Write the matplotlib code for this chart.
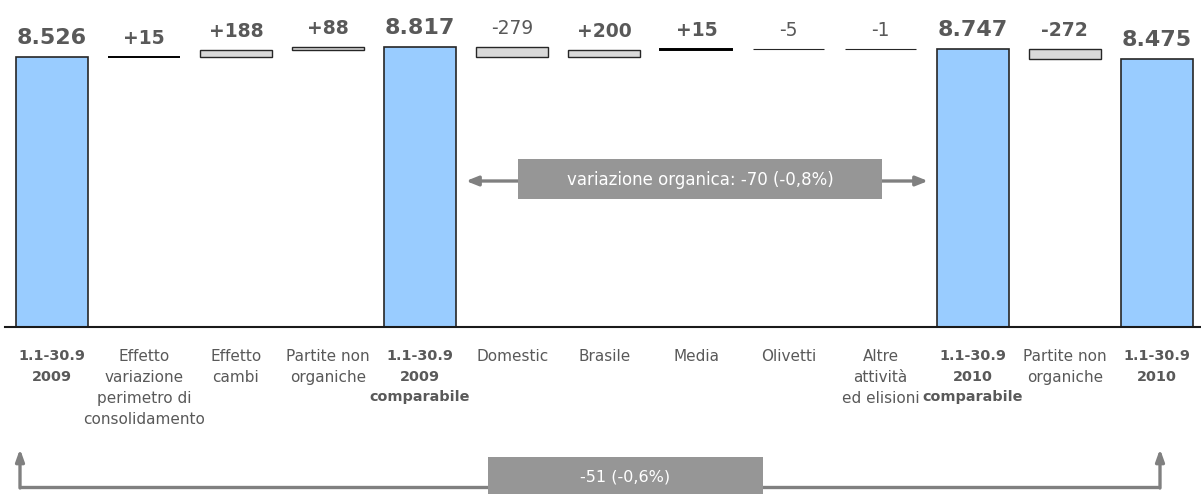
import matplotlib
matplotlib.use('Agg')
import matplotlib.pyplot as plt
from matplotlib.patches import Rectangle
import numpy as np

categories = ["1.1-30.9\n2009", "Effetto\nvariazione\nperimetro di\nconsolidamento", "Effetto\ncambi",
              "Partite non\norganiche", "1.1-30.9\n2009\ncomparabile", "Domestic", "Brasile", "Media",
              "Olivetti", "Altre\nattività\ned elisioni", "1.1-30.9\n2010\ncomparabile",
              "Partite non\norganiche", "1.1-30.9\n2010"]
values = [8526, 15, 188, 88, 8817, -279, 200, 15, -5, -1, 8747, -272, 8475]
is_total = [True, False, False, False, True, False, False, False, False, False, True, False, True]
value_labels = ["8.526", "+15", "+188", "+88", "8.817", "-279", "+200", "+15", "-5", "-1", "8.747", "-272", "8.475"]
organic_note = "variazione organica: -70 (-0,8%)"
total_note = "-51 (-0,6%)"

# style
label_weights = ['bold', 'bold', 'bold', 'bold', 'bold', 'normal', 'bold', 'bold', 'normal', 'normal', 'bold', 'bold', 'bold']
TXT = '#595959'
BLUE = '#99ccff'
GREY_BAR = '#d9d9d9'
EDGE = '#262626'
ANN = '#969696'
ARROW = '#808080'

W, H = 1201, 494
fig = plt.figure(figsize=(W / 100, H / 100), dpi=100)
ax = fig.add_axes([5 / W, (H - 326.5) / H, (W - 5) / W, 326.5 / H])

x = np.arange(len(values))
bottoms, heights = [], []
running = 0
for v, t in zip(values, is_total):
    if t:
        bottoms.append(0)
        heights.append(v)
        running = v
    else:
        bottoms.append(running)
        heights.append(v)
        running += v

for i in range(len(values)):
    if is_total[i]:
        ax.bar(x[i], heights[i], bottom=bottoms[i], width=0.78, color=BLUE, edgecolor=EDGE, linewidth=1.2, zorder=2)
    else:
        small = abs(values[i]) < 50
        if small and values[i] > 0:
            ec, lw = '#000000', 1.4
        elif small:
            ec, lw = EDGE, 0.8
        else:
            ec, lw = EDGE, 1.0
        ax.bar(x[i], heights[i], bottom=bottoms[i], width=0.78, color=GREY_BAR, edgecolor=ec, linewidth=lw, zorder=2)
    top = max(bottoms[i], bottoms[i] + heights[i])
    size = 16 if is_total[i] else 13.5
    ax.annotate(value_labels[i], (x[i], top), xytext=(0, 9.4), textcoords='offset points',
                ha='center', va='baseline', fontsize=size, fontweight=label_weights[i], color=TXT)

ax.set_xlim(-0.508, 12.48)
ax.set_ylim(1040, 10117)
for s in ['top', 'right', 'left']:
    ax.spines[s].set_visible(False)
ax.spines['bottom'].set_linewidth(1.5)
ax.spines['bottom'].set_color('#1a1a1a')
ax.set_yticks([])
ax.set_xticks(x)
ax.set_xticklabels(categories)
ax.tick_params(axis='x', length=0, pad=16)
for lab, t in zip(ax.get_xticklabels(), is_total):
    lab.set_color(TXT)
    if t:
        lab.set_fontweight('bold')
        lab.set_fontsize(10.4)
        lab.set_linespacing(1.62)
    else:
        lab.set_fontsize(11)
        lab.set_linespacing(1.5)
ax.patch.set_alpha(0)

# overlay in pixel coordinates for annotations
ov = fig.add_axes([0, 0, 1, 1], zorder=5)
ov.set_xlim(0, W)
ov.set_ylim(H, 0)
ov.axis('off')
ov.patch.set_alpha(0)

# organic variation double arrow
for xe in (466, 928):
    ov.annotate('', xy=(xe, 181), xytext=(700, 181),
                arrowprops=dict(arrowstyle='-|>,head_length=0.7,head_width=0.28', color=ARROW, lw=2.4,
                                shrinkA=0, shrinkB=0))
ov.add_patch(Rectangle((518, 159), 364, 40, facecolor=ANN, edgecolor='none', zorder=3))
ov.text(700, 180, organic_note, ha='center', va='center', color='white', fontsize=12, zorder=4)

# total variation bracket
ov.plot([20, 1160], [487, 487], color=ARROW, lw=2.4, solid_capstyle='butt')
for xx in (20, 1160):
    ov.annotate('', xy=(xx, 449), xytext=(xx, 488),
                arrowprops=dict(arrowstyle='-|>,head_length=0.7,head_width=0.25', color=ARROW, lw=2.4,
                                shrinkA=0, shrinkB=0))
ov.add_patch(Rectangle((488, 457), 275, 40, facecolor=ANN, edgecolor='none', zorder=3))
ov.text(625, 477, total_note, ha='center', va='center', color='white', fontsize=11.5, zorder=4)

fig.savefig('out.png', dpi=100)
